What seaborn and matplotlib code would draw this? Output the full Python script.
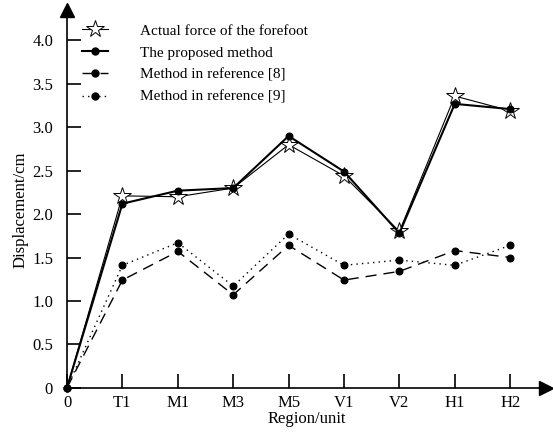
import matplotlib
matplotlib.use("Agg")
import matplotlib.pyplot as plt
import seaborn as sns
import pandas as pd
from matplotlib.lines import Line2D

regions = ["0", "T1", "M1", "M3", "M5", "V1", "V2", "H1", "H2"]
actual = [0, 2.21, 2.20, 2.30, 2.80, 2.44, 1.80, 3.36, 3.19]
proposed = [0, 2.12, 2.27, 2.30, 2.90, 2.49, 1.78, 3.27, 3.21]
ref8 = [0, 1.24, 1.57, 1.07, 1.64, 1.24, 1.34, 1.58, 1.50]
ref9 = [0, 1.41, 1.67, 1.17, 1.77, 1.41, 1.47, 1.41, 1.64]
labels = ["Actual force of the forefoot", "The proposed method",
          "Method in reference [8]", "Method in reference [9]"]
yticks = [0, 0.5, 1.0, 1.5, 2.0, 2.5, 3.0, 3.5, 4.0]
ytick_labels = ["0", "0.5", "1.0", "1.5", "2.0", "2.5", "3.0", "3.5", "4.0"]

plt.rcParams["font.family"] = ["Liberation Serif", "DejaVu Serif"]
plt.rcParams["font.size"] = 11

fig = plt.figure(figsize=(5.53, 4.32), dpi=100)
W, H = 553, 432
x0, y0 = 67, 387.7
px_per_x = 55.4
px_per_y = 86.8
xmax = 8.65
ymax = 4.35
ax = fig.add_axes([x0 / W, (H - y0) / H, xmax * px_per_x / W, ymax * px_per_y / H])

pos = list(range(len(regions)))
df = pd.DataFrame({"pos": pos, "actual": actual, "proposed": proposed,
                   "ref8": ref8, "ref9": ref9})

sns.lineplot(data=df, x="pos", y="actual", ax=ax, color="black", lw=0.8,
             marker="*", markersize=13, markerfacecolor="white",
             markeredgecolor="black", markeredgewidth=0.7,
             markevery=list(range(1, len(regions))), zorder=2)
sns.lineplot(data=df, x="pos", y="ref8", ax=ax, color="black", lw=1.0,
             marker="o", markersize=5, markeredgecolor="black",
             linestyle=(0, (8, 5)), zorder=3, clip_on=False)
sns.lineplot(data=df, x="pos", y="ref9", ax=ax, color="black", lw=1.0,
             marker="o", markersize=5, markeredgecolor="black",
             linestyle=(0, (1, 3)), zorder=3, clip_on=False)
sns.lineplot(data=df, x="pos", y="proposed", ax=ax, color="black", lw=1.5,
             marker="o", markersize=5, markeredgecolor="black", zorder=4,
             clip_on=False)

ax.set_xlim(0, xmax)
ax.set_ylim(0, ymax)
for s in ["top", "right"]:
    ax.spines[s].set_visible(False)
for s in ["left", "bottom"]:
    ax.spines[s].set_linewidth(1.2)
    ax.spines[s].set_color("black")

ax.plot(1, 0, ">k", markersize=10, transform=ax.get_yaxis_transform(), clip_on=False)
ax.plot(0, 1, "^k", markersize=10, transform=ax.get_xaxis_transform(), clip_on=False)

ax.set_xticks(pos)
ax.set_xticklabels(regions, fontsize=12)
ax.set_yticks(yticks)
ax.set_yticklabels(ytick_labels, fontsize=12)
ax.tick_params(axis="both", direction="in", length=10, width=1.2, color="black")
ax.tick_params(axis="x", pad=5)
ax.tick_params(axis="y", pad=10)

ax.set_xlabel("Region/unit", fontsize=12, labelpad=0)
ax.set_ylabel("Displacement/cm", fontsize=12)
ax.yaxis.set_label_coords(-0.081, 0.47)

handles = [
    Line2D([], [], color="black", lw=0.8, marker="*", markersize=13,
           markerfacecolor="white", markeredgecolor="black", markeredgewidth=0.7),
    Line2D([], [], color="black", lw=1.5, marker="o", markersize=5),
    Line2D([], [], color="black", lw=1.0, marker="o", markersize=5, linestyle=(0, (8, 5))),
    Line2D([], [], color="black", lw=1.0, marker="o", markersize=5, linestyle=(0, (1, 3))),
]
ax.legend(handles, labels, loc="upper left", bbox_to_anchor=(0.003, 1.0),
          frameon=False, fontsize=11, handlelength=1.7, handletextpad=2.1,
          labelspacing=0.55)

fig.savefig("out.png", dpi=100)
